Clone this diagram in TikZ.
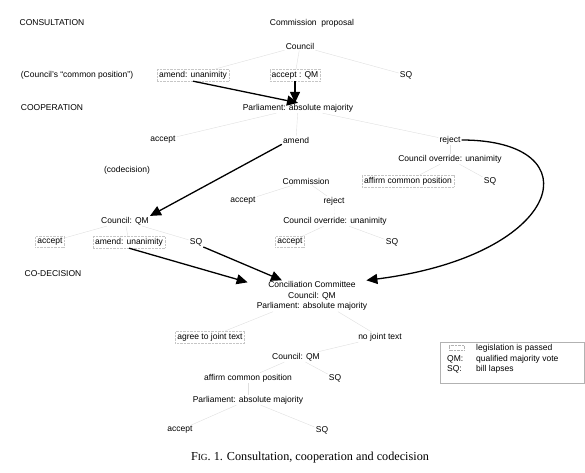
\documentclass[tikz,border=0pt]{standalone}
\usepackage{fontspec}
\setmainfont{Liberation Sans}
\newfontfamily\capfont{Liberation Serif}
\usetikzlibrary{arrows.meta}
\begin{document}
\begin{tikzpicture}[x=1pt,y=-1pt,
  txt/.style={font=\fontsize{8.5}{9}\selectfont, inner sep=1pt},
  passed/.style={txt, draw=gray!45, densely dotted, inner sep=2pt},
  tree/.style={draw=gray!25, line width=0.4pt},
  bigarrow/.style={line width=1.3pt, -{Triangle[length=11pt,width=10pt]}}]
\useasboundingbox (0,0) rectangle (585,472);
% section labels
\node[txt] (consult) at (52,23) {CONSULTATION};
\node[txt] (cp) at (77,75) {(Council's ``common position'')};
\node[txt] (coop) at (52,108) {COOPERATION};
\node[txt] (codec) at (127,170) {(codecision)};
\node[txt] (codecision) at (53,274) {CO-DECISION};
% consultation
\node[txt] (comprop) at (312,23) {Commission\ \ proposal};
\node[txt] (council1) at (300,46) {Council};
\node[passed] (amend1) at (193,75) {amend: unanimity};
\node[passed] (acceptqm) at (295,75) {accept : QM};
\node[txt] (sq1) at (406,75) {SQ};
% cooperation
\node[txt] (parl1) at (298,108) {Parliament: absolute majority};
\node[txt] (accept2) at (163,140) {accept};
\node[txt] (amend2) at (296,140) {amend};
\node[txt] (reject1) at (450,140) {reject};
\node[txt] (override1) at (450,159) {Council override: unanimity};
\node[passed] (affirm1) at (408,181) {affirm common position};
\node[txt] (sq2) at (490,181) {SQ};
\node[txt] (commission) at (306,181) {Commission};
\node[txt] (accept3) at (243,201) {accept};
\node[txt] (reject2) at (334,201) {reject};
\node[txt] (override2) at (335,221) {Council override: unanimity};
\node[txt] (councilqm1) at (125,221) {Council: QM};
\node[passed] (accept4) at (50,242) {accept};
\node[passed] (amend3) at (129,242) {amend: unanimity};
\node[txt] (sq3) at (196,242) {SQ};
\node[passed] (accept5) at (290,242) {accept};
\node[txt] (sq4) at (392,242) {SQ};
% co-decision
\node[txt, align=center, font=\fontsize{8.5}{10.5}\selectfont] (concil) at (312,296) {Conciliation Committee\\Council: QM\\Parliament: absolute majority};
\node[passed] (agree) at (210,337) {agree to joint text};
\node[txt] (nojoint) at (380,337) {no joint text};
\node[txt] (councilqm2) at (296,357) {Council: QM};
\node[txt] (affirm2) at (248,378) {affirm common position};
\node[txt] (sq5) at (335,378) {SQ};
\node[txt] (parl2) at (248,400) {Parliament: absolute majority};
\node[txt] (accept6) at (180,430) {accept};
\node[txt] (sq6) at (322,430) {SQ};
% tree lines
\draw[tree] (council1) -- (amend1);
\draw[tree] (council1) -- (acceptqm);
\draw[tree] (council1) -- (sq1);
\draw[tree] (parl1) -- (accept2);
\draw[tree] (parl1) -- (amend2);
\draw[tree] (parl1) -- (reject1);
\draw[tree] (reject1) -- (override1);
\draw[tree] (override1) -- (affirm1);
\draw[tree] (override1) -- (sq2);
\draw[tree] (commission) -- (accept3);
\draw[tree] (commission) -- (reject2);
\draw[tree, densely dotted] (reject2) -- (override2);
\draw[tree] (override2) -- (accept5);
\draw[tree] (override2) -- (sq4);
\draw[tree] (councilqm1) -- (accept4);
\draw[tree] (councilqm1) -- (amend3);
\draw[tree] (councilqm1) -- (sq3);
\draw[tree] (concil) -- (agree);
\draw[tree] (concil) -- (nojoint);
\draw[tree] (nojoint) -- (councilqm2);
\draw[tree] (councilqm2) -- (affirm2);
\draw[tree] (councilqm2) -- (sq5);
\draw[tree] (affirm2) -- (parl2);
\draw[tree] (parl2) -- (accept6);
\draw[tree] (parl2) -- (sq6);
% arrows
\draw[bigarrow] (amend1.south) -- (parl1.north);
\draw[bigarrow] (acceptqm.south) -- (acceptqm.south |- parl1.north);
\draw[bigarrow] (amend2.south west) -- (councilqm1.north east);
\draw[bigarrow] (amend3.south) -- ([xshift=-8pt,yshift=-2pt]concil.north west);
\draw[bigarrow] (sq3.south east) -- ([xshift=-30pt]concil.north);
\draw[bigarrow] (reject1.east) .. controls (595,140) and (565,255) .. ([xshift=-2pt]concil.north east);
% legend
\node[draw=gray!60, minimum width=144pt, minimum height=41pt, inner sep=0pt] (legend) at (512,362.5) {};
\node[draw=gray!60, densely dotted, minimum width=15pt, minimum height=5pt, inner sep=0pt] (legbox) at (457,348) {};
\node[txt, anchor=west] (leg1) at (475,348) {legislation is passed};
\node[txt, anchor=west] (legqm) at (446,359) {QM:};
\node[txt, anchor=west] (leg2) at (475,359) {qualified majority vote};
\node[txt, anchor=west] (legsq) at (446,369) {SQ:};
\node[txt, anchor=west] (leg3) at (475,369) {bill lapses};
% caption
\node[font=\capfont\fontsize{12.2}{14}\selectfont, inner sep=0pt] (caption) at (310,458) {F{\fontsize{9.3}{11}\selectfont IG}. 1. Consultation, cooperation and codecision};
\end{tikzpicture}
\end{document}
